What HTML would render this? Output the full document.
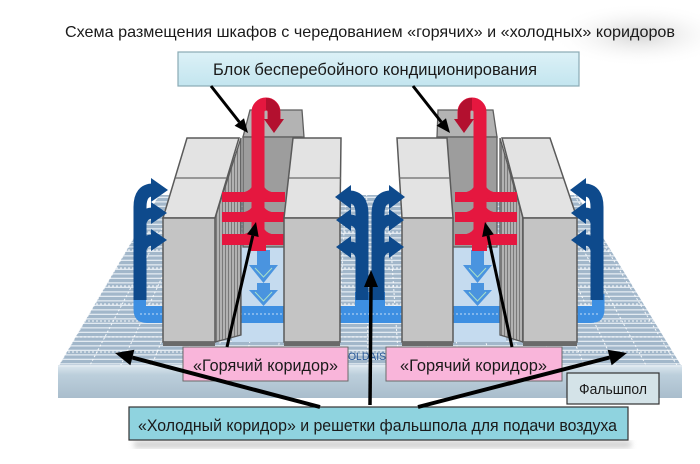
<!DOCTYPE html>
<html><head><meta charset="utf-8"><style>
html,body{margin:0;padding:0;background:#fff;}
svg{display:block;}
text{font-family:"Liberation Sans","DejaVu Sans",sans-serif;}
</style></head><body>
<svg width="700" height="464" viewBox="0 0 700 464" xmlns="http://www.w3.org/2000/svg">
<defs>
  <pattern id="hs" width="8" height="4.5" patternUnits="userSpaceOnUse">
    <rect width="8" height="4.5" fill="#a2b7ca"/>
    <rect y="3.2" width="8" height="1.3" fill="#e2eaf1"/>
  </pattern>
  <pattern id="vs" width="3" height="10" patternUnits="userSpaceOnUse">
    <rect width="3" height="10" fill="#b2b2b2"/>
    <rect width="1" height="10" fill="#7a7a7a"/>
  </pattern>
  <clipPath id="fc"><polygon points="159,195 577,195 682,367 58,367"/></clipPath>
  <linearGradient id="band" x1="0" y1="0" x2="0" y2="1">
    <stop offset="0" stop-color="#d6e2eb"/><stop offset="0.25" stop-color="#bccfdc"/><stop offset="1" stop-color="#a9bdcc"/>
  </linearGradient>
  <linearGradient id="blok" x1="0" y1="0" x2="0" y2="1">
    <stop offset="0" stop-color="#dcf1f7"/><stop offset="1" stop-color="#c3e5ef"/>
  </linearGradient>
  <radialGradient id="shd" cx="0.5" cy="0.5" r="0.5">
    <stop offset="0" stop-color="#d4d4d4"/><stop offset="1" stop-color="#ffffff" stop-opacity="0"/>
  </radialGradient>
  <filter id="bl"><feGaussianBlur stdDeviation="3"/></filter>
</defs>

<ellipse cx="640" cy="35" rx="90" ry="32" fill="url(#shd)"/>

<!-- floor -->
<polygon points="159,195 577,195 682,367 58,367" fill="url(#hs)"/>
<g clip-path="url(#fc)" stroke="#ffffff" stroke-width="1" stroke-dasharray="2 2" opacity="0.9">
  <line x1="364" y1="-154" x2="58" y2="367"/><line x1="364" y1="-154" x2="89" y2="367"/>
  <line x1="364" y1="-154" x2="120" y2="367"/><line x1="364" y1="-154" x2="151" y2="367"/>
  <line x1="364" y1="-154" x2="182" y2="367"/><line x1="364" y1="-154" x2="213" y2="367"/>
  <line x1="364" y1="-154" x2="244" y2="367"/><line x1="364" y1="-154" x2="275" y2="367"/>
  <line x1="364" y1="-154" x2="306" y2="367"/><line x1="364" y1="-154" x2="337" y2="367"/>
  <line x1="364" y1="-154" x2="368" y2="367"/><line x1="364" y1="-154" x2="399" y2="367"/>
  <line x1="364" y1="-154" x2="430" y2="367"/><line x1="364" y1="-154" x2="461" y2="367"/>
  <line x1="364" y1="-154" x2="492" y2="367"/><line x1="364" y1="-154" x2="523" y2="367"/>
  <line x1="364" y1="-154" x2="554" y2="367"/><line x1="364" y1="-154" x2="585" y2="367"/>
  <line x1="364" y1="-154" x2="616" y2="367"/><line x1="364" y1="-154" x2="647" y2="367"/>
  <line x1="364" y1="-154" x2="678" y2="367"/>
  <line x1="0" y1="215" x2="700" y2="215"/><line x1="0" y1="232" x2="700" y2="232"/>
  <line x1="0" y1="250" x2="700" y2="250"/><line x1="0" y1="268" x2="700" y2="268"/>
  <line x1="0" y1="286" x2="700" y2="286"/><line x1="0" y1="304" x2="700" y2="304"/>
  <line x1="0" y1="321" x2="700" y2="321"/><line x1="0" y1="337" x2="700" y2="337"/>
  <line x1="0" y1="352" x2="700" y2="352"/>
</g>
<rect x="58" y="365" width="624" height="3" fill="#dfe8ef"/>
<rect x="58" y="367" width="624" height="31" fill="url(#band)"/>

<!-- hot aisle floors -->
<rect x="232" y="247" width="56" height="95" fill="#c5dbef"/>
<rect x="450" y="247" width="56" height="95" fill="#c5dbef"/>
<g fill="#4a94df">
  <rect x="257" y="250" width="13" height="16"/><polygon points="249,265 278,265 263.5,283"/>
  <rect x="257" y="283" width="13" height="8"/><polygon points="249,290 278,290 263.5,306"/>
  <rect x="471" y="250" width="13" height="16"/><polygon points="463,265 492,265 477.5,283"/>
  <rect x="471" y="283" width="13" height="8"/><polygon points="463,290 492,290 477.5,306"/>
</g>
<g stroke="#a8e0c8" stroke-width="1" fill="none">
  <polyline points="255,268 263.5,277 272,268"/><polyline points="255,292 263.5,301 272,292"/>
  <polyline points="469,268 477.5,277 486,268"/><polyline points="469,292 477.5,301 486,292"/>
</g>

<!-- light blue underfloor band -->
<path d="M133.5 294 V309 Q133.5 323 147 323 H591 Q604.5 323 604.5 309 V294 H592 V306 H146 V294 Z" fill="#3d8fe2"/>
<rect x="355" y="292" width="30" height="16" fill="#3d8fe2"/>
<line x1="140" y1="314" x2="600" y2="314" stroke="#ffffff" stroke-width="1" stroke-dasharray="2 2" opacity="0.7"/>

<!-- LEFT GROUP -->
<polygon points="250,110 302,110 304,137 243,137" fill="#b3b3b3" stroke="#5e5e5e" stroke-width="1.3"/>
<rect x="243" y="137" width="58" height="110" fill="#9d9d9d" stroke="#5e5e5e" stroke-width="1.3"/>
<polygon points="215,218 241,138 241,335 215,342" fill="url(#vs)" stroke="#5a5a5a" stroke-width="1.3"/>
<polygon points="187,138 239,138 215,218 163,218" fill="#e3e3e3" stroke="#5a5a5a" stroke-width="1.5"/>
<line x1="175" y1="178" x2="227" y2="178" stroke="#6a6a6a" stroke-width="1.3"/>
<rect x="163" y="218" width="52" height="124" fill="#c4c4c4" stroke="#5a5a5a" stroke-width="1.5"/>
<rect x="163" y="342" width="52" height="4" fill="#6a6a6a"/>

<!-- red LG -->
<g fill="#e5173f">
  <rect x="222" y="192" width="63" height="10"/>
  <rect x="222" y="212" width="63" height="10"/>
  <rect x="222" y="234" width="63" height="11"/>
  <rect x="251" y="236" width="15" height="15"/>
</g>
<g stroke="#e5173f" stroke-width="8" fill="none">
  <path d="M258 178 Q258 197 236 197"/><path d="M258 178 Q258 197 280 197"/>
  <path d="M258 199 Q258 217 236 217"/><path d="M258 199 Q258 217 280 217"/>
  <path d="M258 220 Q258 239 236 239"/><path d="M258 220 Q258 239 280 239"/>
</g>
<path d="M258 250 V112 A8 8 0 0 1 274 112 V120" stroke="#e5173f" stroke-width="13" fill="none"/>
<path d="M266 104 A8 8 0 0 1 274 112 V121" stroke="#b3102f" stroke-width="12" fill="none"/>
<polygon points="264,119 284,119 274,133" fill="#b3102f"/>

<polygon points="293,138 341,138 340,218 284,218" fill="#e3e3e3" stroke="#5a5a5a" stroke-width="1.5"/>
<line x1="289" y1="178" x2="341" y2="178" stroke="#6a6a6a" stroke-width="1.3"/>
<rect x="284" y="218" width="56" height="124" fill="#c4c4c4" stroke="#5a5a5a" stroke-width="1.5"/>
<rect x="284" y="342" width="56" height="4" fill="#6a6a6a"/>

<!-- RIGHT GROUP -->
<polygon points="438,110 493,110 497,137 437,137" fill="#b3b3b3" stroke="#5e5e5e" stroke-width="1.3"/>
<rect x="437" y="137" width="60" height="110" fill="#9d9d9d" stroke="#5e5e5e" stroke-width="1.3"/>
<polygon points="397,138 447,138 453,218 402,218" fill="#e3e3e3" stroke="#5a5a5a" stroke-width="1.5"/>
<line x1="399" y1="178" x2="450" y2="178" stroke="#6a6a6a" stroke-width="1.3"/>
<rect x="402" y="218" width="51" height="124" fill="#c4c4c4" stroke="#5a5a5a" stroke-width="1.5"/>
<rect x="402" y="342" width="51" height="4" fill="#6a6a6a"/>
<polygon points="500,138 523,218 523,342 500,335" fill="url(#vs)" stroke="#5a5a5a" stroke-width="1.3"/>
<polygon points="502,138 550,138 577,218 523,218" fill="#e3e3e3" stroke="#5a5a5a" stroke-width="1.5"/>
<line x1="513" y1="178" x2="563" y2="178" stroke="#6a6a6a" stroke-width="1.3"/>
<rect x="523" y="218" width="54" height="124" fill="#c4c4c4" stroke="#5a5a5a" stroke-width="1.5"/>
<rect x="523" y="342" width="54" height="4" fill="#6a6a6a"/>

<!-- red RG -->
<g fill="#e5173f">
  <rect x="455" y="192" width="62" height="10"/>
  <rect x="455" y="212" width="62" height="10"/>
  <rect x="455" y="234" width="62" height="11"/>
  <rect x="472" y="236" width="15" height="15"/>
</g>
<g stroke="#e5173f" stroke-width="8" fill="none">
  <path d="M480 178 Q480 197 458 197"/><path d="M480 178 Q480 197 502 197"/>
  <path d="M480 199 Q480 217 458 217"/><path d="M480 199 Q480 217 502 217"/>
  <path d="M480 220 Q480 239 458 239"/><path d="M480 220 Q480 239 502 239"/>
</g>
<path d="M480 250 V112 A8 8 0 0 0 464 112 V120" stroke="#e5173f" stroke-width="13" fill="none"/>
<path d="M472 104 A8 8 0 0 0 464 112 V121" stroke="#b3102f" stroke-width="12" fill="none"/>
<polygon points="454,119 474,119 464,133" fill="#b3102f"/>

<!-- navy arrows -->
<g stroke="#0e4a8c" fill="none">
  <path d="M140 300 V207 Q140 190 153 190" stroke-width="13"/>
  <path d="M140 231 Q140 213 153 213" stroke-width="11"/>
  <path d="M140 258 Q140 240 153 240" stroke-width="11"/>
  <path d="M362 300 V214 Q362 197 349 197" stroke-width="13"/>
  <path d="M362 238 Q362 220 349 220" stroke-width="11"/>
  <path d="M362 265 Q362 247 349 247" stroke-width="11"/>
  <path d="M378 300 V214 Q378 197 391 197" stroke-width="13"/>
  <path d="M378 238 Q378 220 391 220" stroke-width="11"/>
  <path d="M378 265 Q378 247 391 247" stroke-width="11"/>
  <path d="M597 300 V207 Q597 190 584 190" stroke-width="13"/>
  <path d="M597 231 Q597 213 584 213" stroke-width="11"/>
  <path d="M597 258 Q597 240 584 240" stroke-width="11"/>
</g>
<g fill="#0e4a8c">
  <polygon points="151,178 168,190 151,202"/><polygon points="151,202 167,213 151,224"/><polygon points="151,229 167,240 151,251"/>
  <polygon points="351,185 335,197 351,209"/><polygon points="351,209 336,220 351,231"/><polygon points="351,236 336,247 351,258"/>
  <polygon points="389,185 405,197 389,209"/><polygon points="389,209 404,220 389,231"/><polygon points="389,236 404,247 389,258"/>
  <polygon points="586,178 570,190 586,202"/><polygon points="586,202 571,213 586,224"/><polygon points="586,229 571,240 586,251"/>
</g>

<text x="348" y="360" font-size="11" fill="#2a5a9a" textLength="38" lengthAdjust="spacingAndGlyphs">OLDAIS</text>

<text x="65" y="37" font-size="16" fill="#1a1a1a" textLength="610" lengthAdjust="spacingAndGlyphs">Схема размещения шкафов с чередованием «горячих» и «холодных» коридоров</text>

<rect x="178" y="52" width="401" height="34" fill="url(#blok)" stroke="#8aaab4" stroke-width="1.2"/>
<text x="213" y="75" font-size="17" fill="#1a1a1a" textLength="324" lengthAdjust="spacingAndGlyphs">Блок бесперебойного кондиционирования</text>

<rect x="183" y="347" width="165" height="34" fill="#f9b5da" stroke="#6a6a6a" stroke-width="1"/>
<text x="193" y="371" font-size="17" fill="#1a1a1a" textLength="145" lengthAdjust="spacingAndGlyphs">«Горячий коридор»</text>
<rect x="386" y="347" width="176" height="34" fill="#f9b5da" stroke="#6a6a6a" stroke-width="1"/>
<text x="400" y="371" font-size="17" fill="#1a1a1a" textLength="147" lengthAdjust="spacingAndGlyphs">«Горячий коридор»</text>
<rect x="567" y="373" width="92" height="31" fill="#d4e3e8" stroke="#333" stroke-width="1.2"/>
<text x="579" y="394" font-size="15" fill="#1a1a1a" textLength="68" lengthAdjust="spacingAndGlyphs">Фальшпол</text>
<rect x="134" y="441" width="497" height="7" fill="#bbbbbb" filter="url(#bl)" opacity="0.7"/>
<rect x="129" y="407" width="499" height="33" fill="#8fd3df" stroke="#333" stroke-width="1.2"/>
<text x="138" y="431" font-size="17" fill="#1a1a1a" textLength="479" lengthAdjust="spacingAndGlyphs">«Холодный коридор» и решетки фальшпола для подачи воздуха</text>

<g stroke="#000" fill="none" stroke-linecap="butt">
  <line x1="211" y1="86" x2="239.3" y2="122" stroke-width="3"/>
  <line x1="413" y1="86" x2="441.3" y2="122" stroke-width="3"/>
  <line x1="227" y1="347" x2="252.8" y2="235.6" stroke-width="3"/>
  <line x1="512" y1="347" x2="488" y2="235.7" stroke-width="3"/>
  <line x1="320" y1="407" x2="132.4" y2="357.6" stroke-width="4"/>
  <line x1="370" y1="405" x2="371" y2="286" stroke-width="3.5"/>
  <line x1="418" y1="407" x2="609.6" y2="357.5" stroke-width="4"/>
</g>
<g fill="#000">
  <polygon points="248,133 234.6,125.7 244,118.3"/>
  <polygon points="450,133 436.6,125.7 446,118.3"/>
  <polygon points="256,222 258.7,237 247,234.3"/>
  <polygon points="485,222 493.8,234.4 482.1,237"/>
  <polygon points="115,353 134.4,349.8 130.4,365.3"/>
  <polygon points="371,270 364,287 378,287"/>
  <polygon points="627,353 611.6,365.2 607.6,349.8"/>
</g>
</svg>
</body></html>
